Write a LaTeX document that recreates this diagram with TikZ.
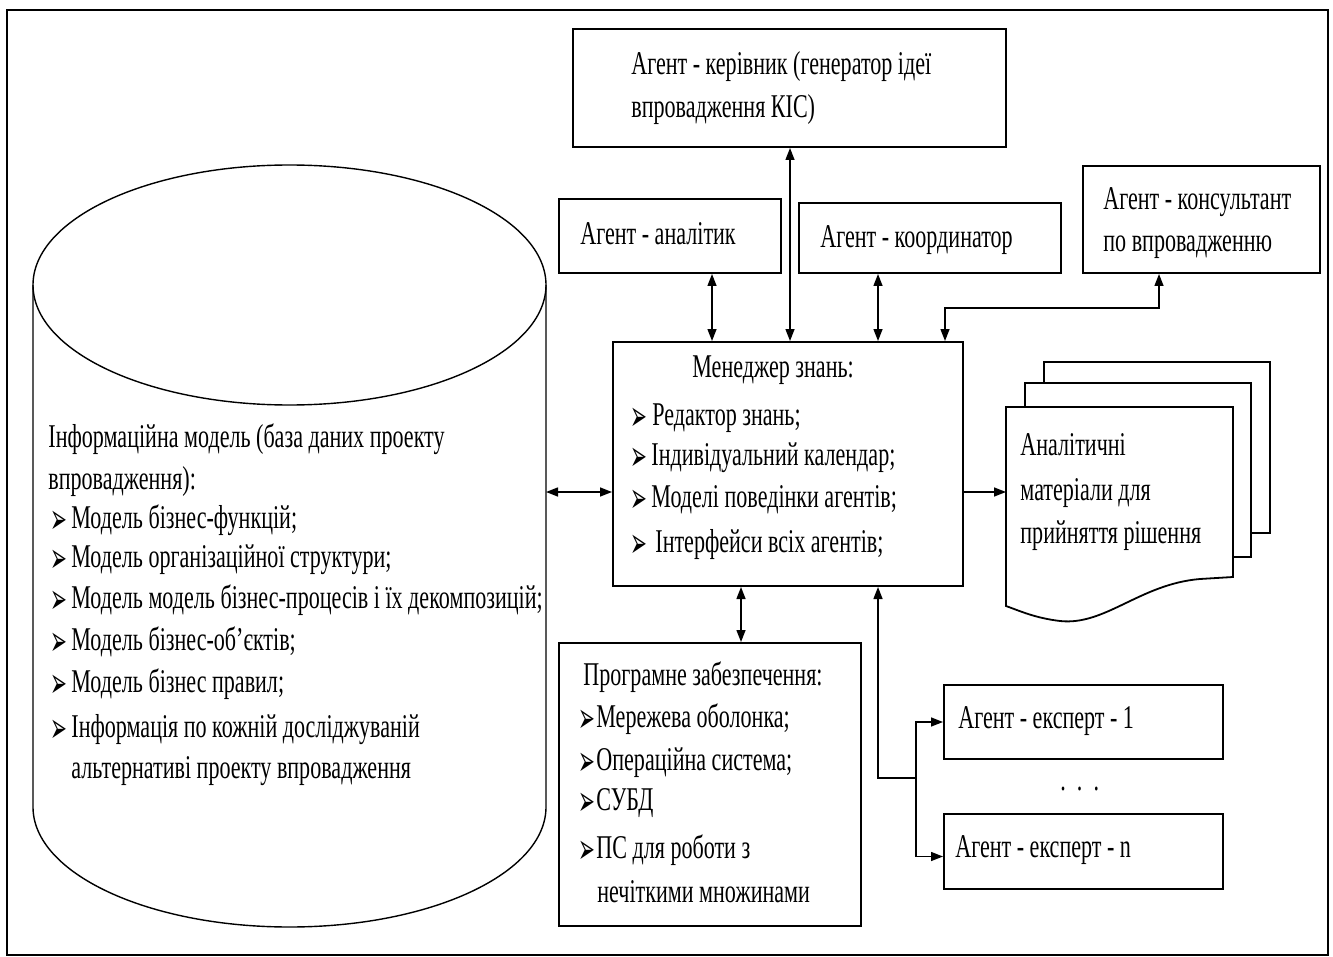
\documentclass[tikz,border=0pt]{standalone}
\usepackage{fontspec}
\setmainfont[FakeStretch=0.665]{Liberation Serif}
\newfontfamily\bulletfont[FakeStretch=0.48]{DejaVu Sans}
\usetikzlibrary{arrows.meta,fit}

\tikzset{
  box/.style={draw, line width=1pt, fill=white, inner sep=0pt},
  txt/.style={anchor=base west, inner sep=0pt, font=\fontsize{16.6}{19}\selectfont},
  bul/.style={anchor=base west, inner sep=0pt, yshift=-2.5pt, font=\bulletfont\fontsize{21}{21}\selectfont},
  conn/.style={line width=0.7pt},
  dbl/.style={conn, {Triangle[length=6pt,width=4.5pt]}-{Triangle[length=6pt,width=4.5pt]}},
  sgl/.style={conn, -{Triangle[length=6pt,width=4.5pt]}},
  sheet/.style={draw, line width=0.9pt, fill=white}
}

\begin{document}
\begin{tikzpicture}[x=0.5pt, y=-0.5pt]
\useasboundingbox (0,0) rectangle (1333,957);
\draw[line width=1.4pt] (7,10) rectangle (1328,955);

% information model (cylinder)
\draw[line width=0.7pt] (33,285) -- (33,807)
  arc[start angle=180, end angle=360, x radius=128.25pt, y radius=60pt] -- (546,285);
\draw[line width=0.7pt] (289.5,285) ellipse [x radius=128.25pt, y radius=60pt];
\coordinate (cylE) at (546,492);

\node[txt] (c1) at (48,447) {Інформаційна модель (база даних проекту};
\node[txt] (c2) at (48,489) {впровадження):};
\node[bul] (cb1) at (50,528) {➢};
\node[txt] (c3) at (71,528) {Модель бізнес-функцій;};
\node[bul] (cb2) at (50,567) {➢};
\node[txt] (c4) at (71,567) {Модель організаційної структури;};
\node[bul] (cb3) at (50,608) {➢};
\node[txt] (c5) at (71,608) {Модель модель бізнес-процесів і їх декомпозицій;};
\node[bul] (cb4) at (50,650) {➢};
\node[txt] (c6) at (71,650) {Модель бізнес-об'єктів;};
\node[bul] (cb5) at (50,692) {➢};
\node[txt] (c7) at (71,692) {Модель бізнес правил;};
\node[bul] (cb6) at (50,737) {➢};
\node[txt] (c8) at (71,737) {Інформація по кожній досліджуваній};
\node[txt] (c9) at (71,778) {альтернативі проекту впровадження};

% agent boxes
\node[box, fit={(573,29) (1006,147)}] (ker) {};
\node[txt] (k1) at (631,75) {Агент - керівник (генератор ідеї};
\node[txt] (k2) at (631,118) {впровадження КІС)};

\node[box, fit={(559,199) (781,273)}] (anl) {};
\node[txt] (a1) at (580,245) {Агент - аналітик};

\node[box, fit={(799,203) (1061,273)}] (koo) {};
\node[txt] (o1) at (820,248) {Агент - координатор};

\node[box, fit={(1083,166) (1320,273)}] (kon) {};
\node[txt] (n1) at (1103,210) {Агент - консультант};
\node[txt] (n2) at (1103,252) {по впровадженню};

% knowledge manager
\node[box, fit={(613,342) (963,586)}] (man) {};
\node[txt] (m0) at (692,377) {Менеджер знань:};
\node[bul] (mb1) at (630,425) {➢};
\node[txt] (m1) at (652,425) {Редактор знань;};
\node[bul] (mb2) at (630,465) {➢};
\node[txt] (m2) at (651,465) {Індивідуальний календар;};
\node[bul] (mb3) at (630,507) {➢};
\node[txt] (m3) at (651,507) {Моделі поведінки агентів;};
\node[bul] (mb4) at (630,552) {➢};
\node[txt] (m4) at (655,552) {Інтерфейси всіх агентів;};

% stack of documents
\draw[sheet] (1044,362) rectangle (1270,533);
\draw[sheet] (1025,383) rectangle (1251,557);
\draw[sheet] (1006,407) -- (1233,407) -- (1233,577) -- (1200,579)
  .. controls (1140,584) and (1105,626) .. (1060,621)
  .. controls (1035,618) and (1020,611) .. (1006,606) -- cycle;
\coordinate (docW) at (1006,492);
\node[txt] (d1) at (1020,455) {Аналітичні};
\node[txt] (d2) at (1020,500) {матеріали для};
\node[txt] (d3) at (1020,543) {прийняття рішення};

% software
\node[box, fit={(559,643) (861,926)}] (pz) {};
\node[txt] (p0) at (583,685) {Програмне забезпечення:};
\node[bul] (pb1) at (578,727) {➢};
\node[txt] (p1) at (596,727) {Мережева оболонка;};
\node[bul] (pb2) at (578,770) {➢};
\node[txt] (p2) at (596,770) {Операційна система;};
\node[bul] (pb3) at (578,810) {➢};
\node[txt] (p3) at (596,810) {СУБД};
\node[bul] (pb4) at (578,858) {➢};
\node[txt] (p4) at (596,858) {ПС для роботи з};
\node[txt] (p5) at (597,902) {нечіткими множинами};

% experts
\node[box, fit={(944,685) (1223,759)}] (ex1) {};
\node[txt] (e1) at (958,728) {Агент - експерт - 1};
\node[box, fit={(944,814) (1223,889)}] (exn) {};
\node[txt] (e2) at (955,857) {Агент - експерт - n};
\node[txt] (dots) at (1060,790) {.\ \ .\ \ .};

% connectors
\coordinate (y492) at (0,492);
\coordinate (x712) at (712,0);
\coordinate (x790) at (790,0);
\coordinate (x878) at (878,0);
\coordinate (x741) at (741,0);
\coordinate (x1159) at (1159,0);
\coordinate (bendK) at (945,308);
\coordinate (junc) at (916,778);

\draw[dbl] (cylE) -- (man.west |- y492);
\draw[sgl] (man.east |- y492) -- (docW);
\draw[dbl] (anl.south -| x712) -- (man.north -| x712);
\draw[dbl] (ker.south -| x790) -- (man.north -| x790);
\draw[dbl] (koo.south -| x878) -- (man.north -| x878);
\draw[dbl] (man.north -| bendK) -- (bendK) -| (kon.south -| x1159);
\draw[dbl] (man.south -| x741) -- (pz.north -| x741);
\draw[conn, {Triangle[length=6pt,width=4.5pt]}-] (man.south -| x878) |- (junc);
\draw[sgl] (junc) |- (ex1.west);
\draw[sgl] (junc) |- ([yshift=-2.5pt]exn.west);
\end{tikzpicture}
\end{document}
